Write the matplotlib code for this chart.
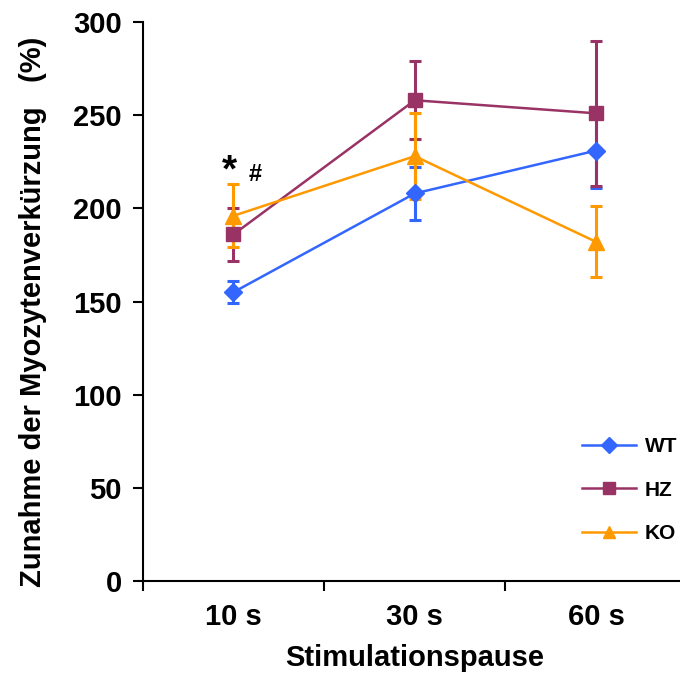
import matplotlib
matplotlib.use("Agg")
import matplotlib.pyplot as plt

plt.rcParams['font.family'] = ['Liberation Sans', 'DejaVu Sans']
plt.rcParams['font.weight'] = 'bold'

# Stimulationspause, Zunahme der Myozytenverkürzung (%) je Genotyp
pausen = ['10 s', '30 s', '60 s']
wt = [155, 208, 231]
wt_err = [6, 14, 20]
hz = [186, 258, 251]
hz_err = [14, 21, 39]
ko = [196, 228, 182]
ko_err = [17, 23, 19]

serien = [
    ('WT', wt, wt_err, '#3366FF', 'D', 9),
    ('HZ', hz, hz_err, '#993366', 's', 10.5),
    ('KO', ko, ko_err, '#FF9900', '^', 11),
]

fig = plt.figure(figsize=(6.8, 6.73), dpi=100)
ax = fig.add_axes([0.21, 0.1367, 0.80, 0.8306])

x = list(range(1, len(pausen) + 1))
handles = []
for name, werte, fehler, farbe, marker, ms in serien:
    ax.errorbar(x, werte, yerr=fehler, fmt='none', ecolor=farbe,
                elinewidth=2.2, capsize=4.5, capthick=2.2, zorder=2)
    ax.plot(x, werte, color=farbe, lw=1.8, zorder=3)
    ax.plot(x, werte, ls='none', marker=marker, ms=ms, color=farbe,
            mec=farbe, zorder=4)
    h, = ax.plot([], [], color=farbe, lw=1.8, marker=marker, ms=ms * 0.85,
                 mec=farbe, label=name)
    handles.append(h)

# Signifikanzzeichen bei 10 s
ax.text(0.98, 220, '*', fontsize=28, fontweight='bold', ha='center', va='center')
ax.text(1.12, 218, '#', fontsize=17, fontweight='bold', ha='center', va='center')

ax.set_xlim(0.5, 3.5)
ax.set_ylim(0, 300)
ax.set_yticks(range(0, 301, 50))
ax.set_xticks([0.5, 1.5, 2.5])
ax.set_xticklabels([])
ax.set_xticks(x, minor=True)
ax.set_xticklabels(pausen, minor=True)
ax.tick_params(axis='x', which='minor', length=0, pad=16, labelsize=21)
ax.tick_params(axis='x', which='major', length=7, width=1.5, direction='out')
ax.tick_params(axis='y', length=7, width=1.5, direction='out', labelsize=21, pad=8)
for lbl in ax.get_xticklabels(minor=True) + ax.get_yticklabels():
    lbl.set_fontweight('bold')

for s in ['top', 'right']:
    ax.spines[s].set_visible(False)
for s in ['left', 'bottom']:
    ax.spines[s].set_linewidth(1.5)

ax.set_xlabel('Stimulationspause', fontsize=21, fontweight='bold', labelpad=9)
fig.text(33 / 680, 0.536, 'Zunahme der Myozytenverkürzung   (%)', fontsize=21,
         fontweight='bold', rotation=90, ha='center', va='center')

fig.legend(handles=handles, loc='lower right', bbox_to_anchor=(677 / 680, 0.193),
           frameon=False, prop={'weight': 'bold', 'size': 15},
           handlelength=2.6, labelspacing=1.17, handletextpad=0.4,
           borderpad=0, borderaxespad=0)

fig.savefig('out.png', dpi=100)
